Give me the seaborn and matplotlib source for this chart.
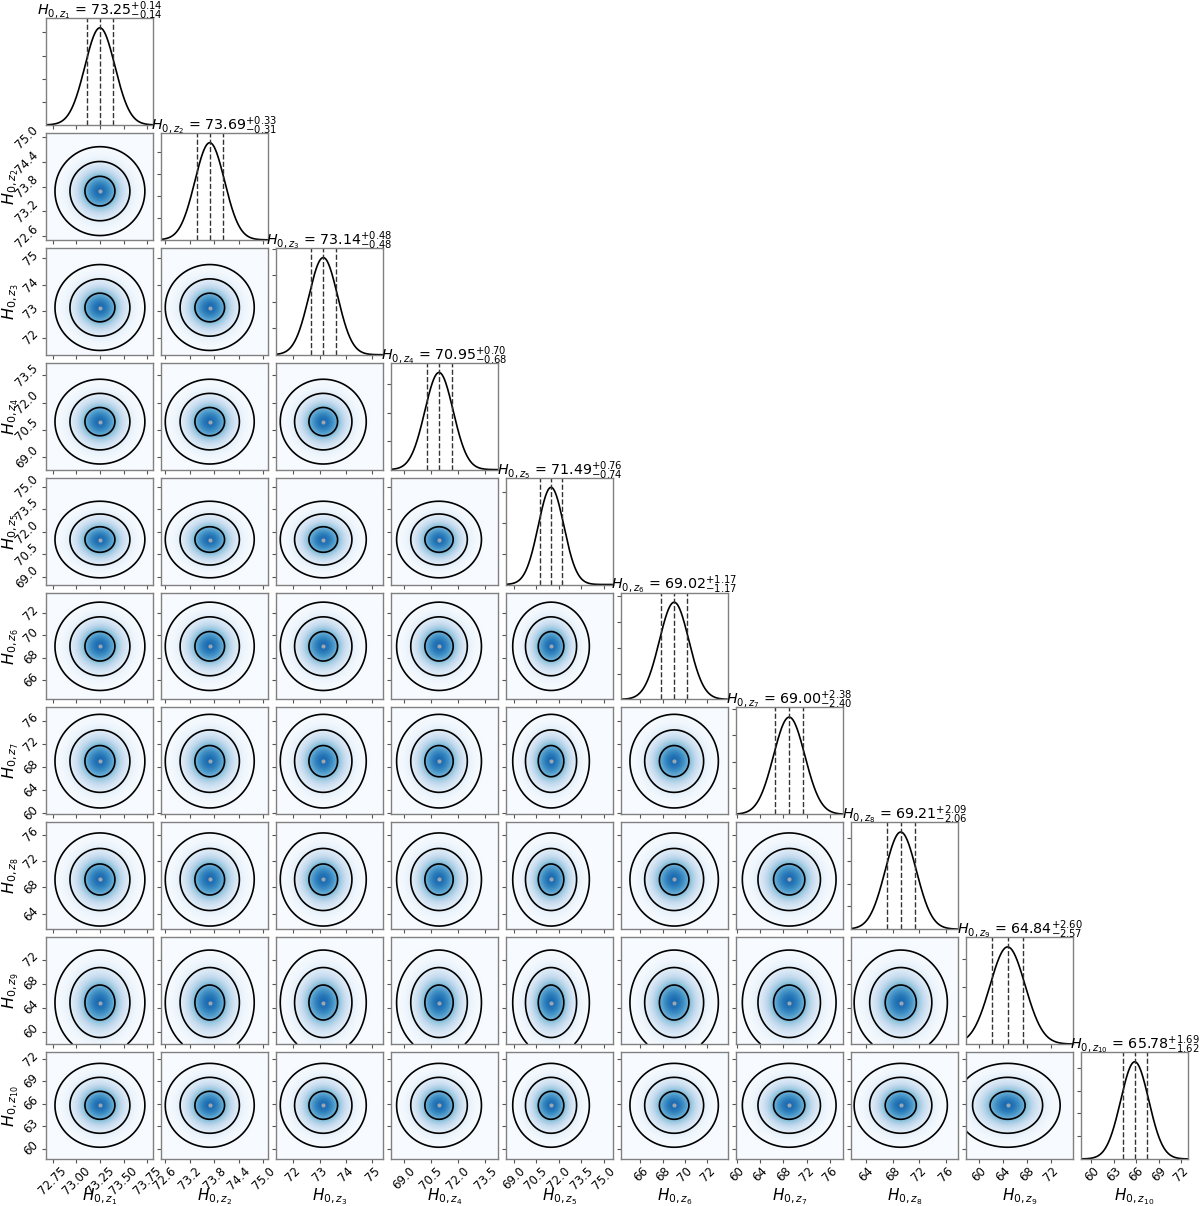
import numpy as np
import seaborn as sns
import matplotlib
matplotlib.use("Agg")
import matplotlib.pyplot as plt
from matplotlib.ticker import MaxNLocator

# Posterior summaries (median, +err, -err)
medians = [73.25, 73.69, 73.14, 70.95, 71.49, 69.02, 69.00, 69.21, 64.84, 65.78]
err_plus = [0.14, 0.33, 0.48, 0.70, 0.76, 1.17, 2.38, 2.09, 2.60, 1.69]
err_minus = [0.14, 0.31, 0.48, 0.68, 0.74, 1.17, 2.40, 2.06, 2.57, 1.62]

# Axis ranges of each parameter, estimated from the panels
range_lo = [72.68, 72.50, 71.35, 68.30, 68.50, 64.25, 59.80, 61.70, 57.90, 58.60]
range_hi = [73.81, 75.11, 75.40, 74.20, 75.60, 73.85, 78.30, 77.85, 75.75, 72.90]

# Tick values shown on each axis
ticks = [
    [72.75, 73.00, 73.25, 73.50, 73.75],
    [72.6, 73.2, 73.8, 74.4, 75.0],
    [72, 73, 74, 75],
    [69.0, 70.5, 72.0, 73.5],
    [69.0, 70.5, 72.0, 73.5, 75.0],
    [66, 68, 70, 72],
    [60, 64, 68, 72, 76],
    [64, 68, 72, 76],
    [60, 64, 68, 72],
    [60, 63, 66, 69, 72],
]
tick_fmt = ["{:.2f}", "{:.1f}", "{:.0f}", "{:.1f}", "{:.1f}",
            "{:.0f}", "{:.0f}", "{:.0f}", "{:.0f}", "{:.0f}"]

labels = [r"$H_{0,z_{%d}}$" % (k + 1) for k in range(len(medians))]

# contour levels in "sigma" units and kde smoothing widening
sigma_levels = [3, 2, 1]
kde_widen = 1.13

sns.set_style("ticks")
plt.rcParams["font.family"] = ["DejaVu Sans"]
plt.rcParams["text.color"] = "black"
plt.rcParams["axes.labelcolor"] = "black"
plt.rcParams["xtick.labelcolor"] = "black"
plt.rcParams["ytick.labelcolor"] = "black"

n = len(medians)
sig = [(p + m) / 2 for p, m in zip(err_plus, err_minus)]

fig, axes = plt.subplots(n, n, figsize=(12, 12.06), dpi=100)
fig.subplots_adjust(left=0.0383, right=0.99, bottom=0.039, top=0.985,
                    wspace=0.075, hspace=0.075)

for i in range(n):
    for j in range(n):
        ax = axes[i, j]
        if j > i:
            ax.set_axis_off()
            continue

        if i == j:
            x = np.linspace(range_lo[i], range_hi[i], 400)
            s = sig[i] * kde_widen
            dens = np.exp(-0.5 * ((x - medians[i]) / s) ** 2) / (s * np.sqrt(2 * np.pi))
            sns.lineplot(x=x, y=dens, ax=ax, color="k", lw=1.2)
            for q in (medians[i] - err_minus[i], medians[i], medians[i] + err_plus[i]):
                ax.axvline(q, ls="--", color="#333333", lw=1.0)
            peak = 1 / (s * np.sqrt(2 * np.pi))
            ax.set_ylim(0, 1.1 * peak)
            ax.yaxis.set_major_locator(MaxNLocator(5, prune="lower"))
            ax.set_yticklabels([])
            title = "%s = $%.2f^{+%.2f}_{-%.2f}$" % (labels[i], medians[i], err_plus[i], err_minus[i])
            ax.text(0.5, 1.03, title, transform=ax.transAxes, ha="center",
                    va="baseline", fontsize=10.3)
        else:
            gx = np.linspace(range_lo[j], range_hi[j], 200)
            gy = np.linspace(range_lo[i], range_hi[i], 200)
            X, Y = np.meshgrid(gx, gy)
            sx = sig[j] * kde_widen
            sy = sig[i] * kde_widen
            Z = np.exp(-0.5 * (((X - medians[j]) / sx) ** 2 + ((Y - medians[i]) / sy) ** 2))
            ax.imshow(Z, extent=(range_lo[j], range_hi[j], range_lo[i], range_hi[i]),
                      origin="lower", cmap="Blues", vmin=0, vmax=1 / 0.78, aspect="auto")
            lev = [np.exp(-0.5 * r ** 2) for r in sigma_levels]
            ax.contour(X, Y, Z, levels=lev, colors="k", linewidths=1.2)
            ax.plot(medians[j], medians[i], "o", ms=3, color="#9aa6b2", mec="none")
            ax.set_ylim(range_lo[i], range_hi[i])
            ax.set_yticks(ticks[i])
            if j == 0:
                ax.set_yticklabels([tick_fmt[i].format(t) for t in ticks[i]],
                                   rotation=45, va="center", fontsize=8.5)
                ax.set_ylabel(labels[i], fontsize=11.5)
                ax.yaxis.set_label_coords(-0.235, 0.5)
            else:
                ax.set_yticklabels([])

        ax.set_xlim(range_lo[j], range_hi[j])
        ax.set_xticks(ticks[j])
        if i == n - 1:
            ax.set_xticklabels([tick_fmt[j].format(t) for t in ticks[j]],
                               rotation=45, ha="center", fontsize=8.5)
            ax.set_xlabel(labels[j], fontsize=11)
            ax.xaxis.set_label_coords(0.5, -0.26)
        else:
            ax.set_xticklabels([])
            ax.set_xlabel("")

        for sp in ax.spines.values():
            sp.set_color("#808080")
            sp.set_linewidth(1.0)
        ax.tick_params(length=3, width=0.8, color="#555555", pad=1)

fig.savefig("out.png", dpi=100)
